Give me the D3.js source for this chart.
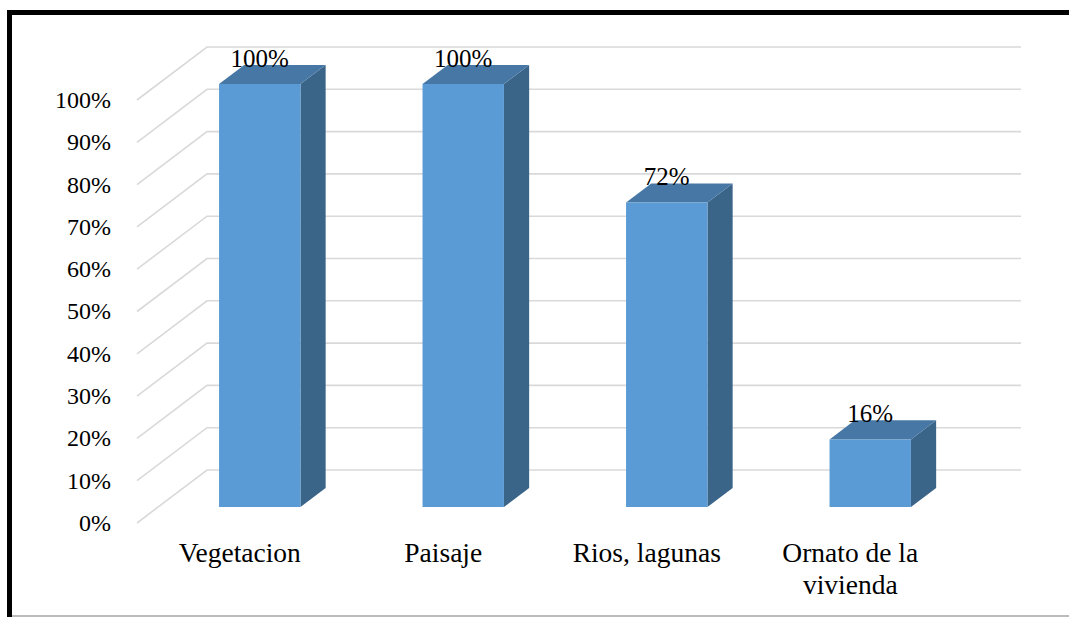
<!DOCTYPE html>
<html>
<head>
<meta charset="utf-8">
<script src="https://cdn.jsdelivr.net/npm/d3@7"></script>
<style>
  html, body { margin: 0; padding: 0; background: #fff; }
  #chart, #chart text, #chart tspan { font-family: "Liberation Serif", Tinos, "Times New Roman", Times, serif; }
</style>
</head>
<body>
<svg id="chart" width="1069" height="617" font-family="Liberation Serif"></svg>
<script>
// Data
const categories = ["Vegetacion", "Paisaje", "Rios, lagunas", "Ornato de la|vivienda"];
const values = [100, 100, 72, 16];
const valueLabels = ["100%", "100%", "72%", "16%"];
const tickValues = [0, 10, 20, 30, 40, 50, 60, 70, 80, 90, 100];
const tickLabels = ["0%", "10%", "20%", "30%", "40%", "50%", "60%", "70%", "80%", "90%", "100%"];

const svg = d3.select("#chart");

// Frame
svg.append("line").attr("x1", 9.5).attr("x2", 9.5).attr("y1", 10).attr("y2", 617)
  .attr("stroke", "#000").attr("stroke-width", 5);
svg.append("line").attr("x1", 7).attr("x2", 1069).attr("y1", 12.5).attr("y2", 12.5)
  .attr("stroke", "#000").attr("stroke-width", 5);
svg.append("line").attr("x1", 12).attr("x2", 1069).attr("y1", 616).attr("y2", 616)
  .attr("stroke", "#a6a6a6").attr("stroke-width", 1.5);

// 3D projection: depth vector for a full-depth step back
const depthX = 70, depthY = -53;
const frontLeft = 137, backRight = 1021;

const x = d3.scaleBand().domain(categories).range([frontLeft, backRight - depthX]).paddingInner(0).paddingOuter(0);
const y = d3.scaleLinear().domain([0, 100]).range([523, 100]);

// project (xFront, value, depth fraction)
const px = (xf, d) => xf + depthX * d;
const py = (v, d) => y(v) + depthY * d;

// Gridlines: diagonal on the side wall then horizontal on the back wall
const grid = svg.append("g");
tickValues.forEach(t => {
  grid.append("polyline")
    .attr("points", [[frontLeft, y(t)], [px(frontLeft, 1), py(t, 1)], [backRight, py(t, 1)]].map(p => p.join(",")).join(" "))
    .attr("fill", "none").attr("stroke", "#d9d9d9").attr("stroke-width", 1.6);
});

// Y axis labels
svg.append("g").selectAll("text").data(tickValues).join("text")
  .attr("x", 111).attr("y", d => y(d)).attr("dy", "0.33em")
  .attr("text-anchor", "end").attr("font-size", 24)
  .text((d, i) => tickLabels[i]);

// Bars
const d0 = 0.3, d1 = 0.66;
const barW = x.bandwidth() * 0.4;
const bars = svg.append("g");
categories.forEach((c, i) => {
  const v = values[i];
  const xl = x(c) + (x.bandwidth() - barW) / 2;
  const xr = xl + barW;
  const poly = pts => pts.map(p => p.join(",")).join(" ");
  // side face
  bars.append("polygon").attr("points", poly([
    [px(xr, d0), py(0, d0)], [px(xr, d1), py(0, d1)], [px(xr, d1), py(v, d1)], [px(xr, d0), py(v, d0)]
  ])).attr("fill", "#3b6489");
  // top face
  bars.append("polygon").attr("points", poly([
    [px(xl, d0), py(v, d0)], [px(xl, d1), py(v, d1)], [px(xr, d1), py(v, d1)], [px(xr, d0), py(v, d0)]
  ])).attr("fill", "#4677a5");
  // front face
  bars.append("polygon").attr("points", poly([
    [px(xl, d0), py(0, d0)], [px(xr, d0), py(0, d0)], [px(xr, d0), py(v, d0)], [px(xl, d0), py(v, d0)]
  ])).attr("fill", "#5b9bd5");
  // value label
  bars.append("text")
    .attr("x", px((xl + xr) / 2, d0)).attr("y", py(v, d1) + 2)
    .attr("text-anchor", "middle").attr("font-size", 25)
    .text(valueLabels[i]);
});

// Category labels
const catG = svg.append("g");
categories.forEach(c => {
  const lines = c.split("|");
  const cx = x(c) + x.bandwidth() / 2 + 1;
  const t = catG.append("text")
    .attr("x", cx).attr("y", 562)
    .attr("text-anchor", "middle").attr("font-size", 27.5);
  lines.forEach((l, j) => {
    t.append("tspan").attr("x", cx).attr("dy", j === 0 ? 0 : 32).text(l);
  });
});
</script>
</body>
</html>
